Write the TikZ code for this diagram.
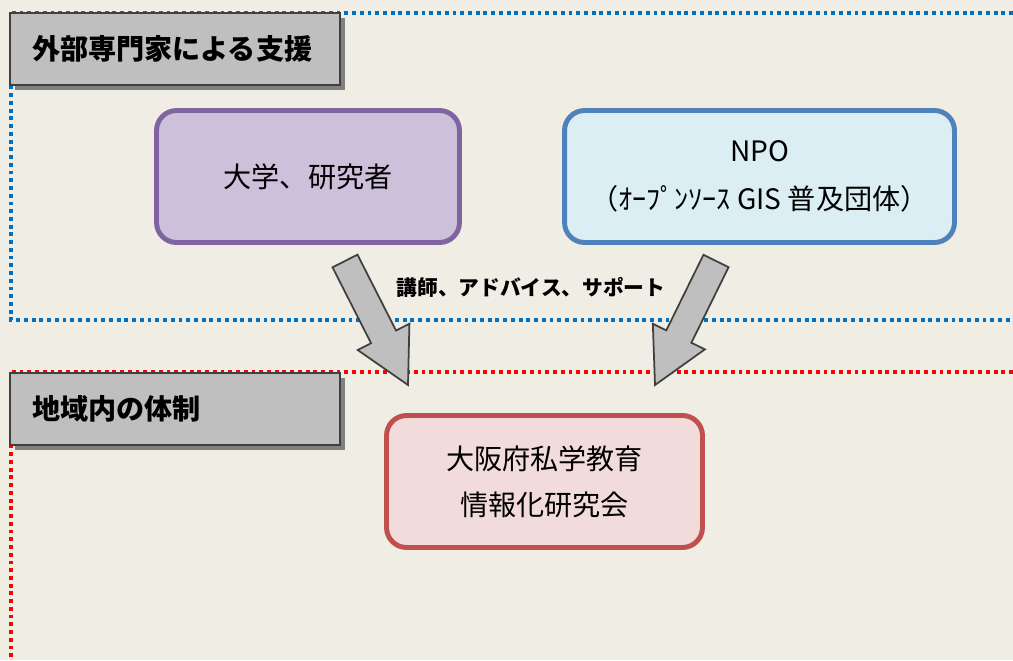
\documentclass[tikz,border=0pt]{standalone}
\usepackage{fontspec}
\setmainfont{Noto Sans CJK JP}
\usetikzlibrary{calc,shadows}

\definecolor{bgbeige}{RGB}{240,237,229}
\definecolor{labelg}{RGB}{191,191,191}
\definecolor{shadowg}{RGB}{128,128,128}
\definecolor{lineg}{RGB}{64,64,64}
\definecolor{univfill}{RGB}{204,192,218}
\definecolor{univline}{RGB}{128,100,162}
\definecolor{npofill}{RGB}{218,238,243}
\definecolor{npoline}{RGB}{79,129,189}
\definecolor{assocfill}{RGB}{242,220,219}
\definecolor{assocline}{RGB}{192,80,77}
\definecolor{outerblue}{RGB}{0,112,192}

% wide grey arrow from #1 to #2
\newcommand{\blockarrow}[2]{%
  \coordinate (b) at ($(#2)!1.08cm!(#1)$);
  \draw [arrowbody] ($(#1)!.28cm!90:(#2)$) -- ($(b)!.28cm!90:(#2)$)
    -- ($(b)!.58cm!90:(#2)$) -- (#2) -- ($(b)!.58cm!-90:(#2)$)
    -- ($(b)!.28cm!-90:(#2)$) -- ($(#1)!.28cm!-90:(#2)$) -- cycle;}

\begin{document}
\begin{tikzpicture}[x=.02cm, y=-.02cm,
    every node/.style={font=\fontsize{16}{26}\selectfont},
    heading/.style={draw=lineg, line width=1.2pt, fill=labelg, minimum height=1.44cm,
      text width=5.72cm, inner xsep=.44cm, align=left,
      font=\fontsize{16}{20}\selectfont\bfseries,
      drop shadow={shadow xshift=.1cm, shadow yshift=-.1cm, fill=shadowg, opacity=1}},
    member/.style={draw, line width=2.8pt, rounded corners=.4cm, minimum height=2.64cm, align=center},
    arrowbody/.style={draw=lineg, line width=1pt, fill=labelg},
    frameline/.style={line width=2.2pt, dash pattern=on 2.2pt off 2.2pt}]
    \fill [bgbeige] (0, 0) rectangle (1013, 660);
    \useasboundingbox (0, 0) rectangle (1013, 660);

    % frames
    \draw [frameline, outerblue] (1013, 13) -- (11, 13) -- (11, 320) -- (1013, 320);
    \draw [frameline, red] (1013, 372) -- (11, 372) -- (11, 660);

    \node [heading] (ext) at (175, 49) {外部専門家による支援};
    \node [heading] (local) at (175, 409) {地域内の体制};

    \node [member, draw=univline, fill=univfill, minimum width=6.06cm] (univ) at (308, 176.5) {大学、研究者};
    \node [member, draw=npoline, fill=npofill, minimum width=7.8cm, font=\fontsize{16}{27}\selectfont] (npo) at (759.5, 176.5)
      {NPO\\（ｵｰﾌﾟﾝｿｰｽ GIS 普及団体）};
    \node [member, draw=assocline, fill=assocfill, minimum width=6.32cm, font=\fontsize{16}{26}\selectfont] (assoc) at (544.5, 481.5)
      {大阪府私学教育\\情報化研究会};

    \node [font=\fontsize{11.8}{14}\selectfont\bfseries] (help) at (531, 287) {講師、アドバイス、サポート};

    \coordinate (t1) at (345, 261);
    \coordinate (h1) at (408, 385);
    \coordinate (t2) at (716, 261);
    \coordinate (h2) at (655, 385);
    \blockarrow{t1}{h1}
    \blockarrow{t2}{h2}
  \end{tikzpicture}
\end{document}
